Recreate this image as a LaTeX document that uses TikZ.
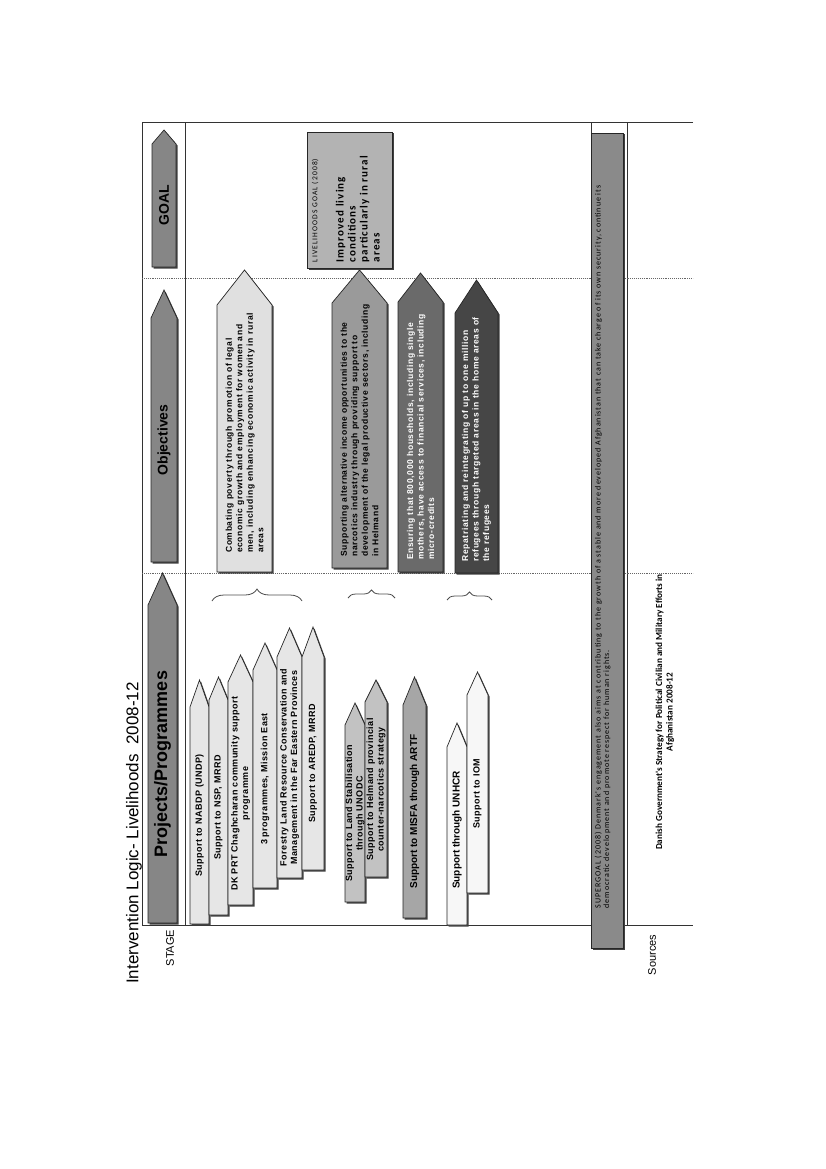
\documentclass[tikz,border=0pt]{standalone}
\usepackage{fontspec}
\setmainfont{Liberation Sans}
\newfontfamily\calib{Carlito}
\usepackage{tikz}
\usetikzlibrary{positioning, calc, decorations.pathreplacing}

\definecolor{stagefill}{HTML}{868686}
\definecolor{lightfill}{HTML}{E6E6E6}
\definecolor{midfill}{HTML}{C2C2C2}
\definecolor{misfafill}{HTML}{A6A6A6}
\definecolor{whitefill}{HTML}{F7F7F7}
\definecolor{objone}{HTML}{E0E0E0}
\definecolor{objtwo}{HTML}{9A9A9A}
\definecolor{objthree}{HTML}{6A6A6A}
\definecolor{objfour}{HTML}{464646}
\definecolor{goalfill}{HTML}{B3B3B3}
\definecolor{superfill}{HTML}{8A8A8A}

% pointed box: name, x left, x right, y bottom, y shoulder, y tip, fill
\newcommand{\pointbox}[7]{%
  \fill[black!75, shift={(1.5,1.5)}] (#2,#4) -- (#2,#5) -- ({(#2+#3)/2},#6) -- (#3,#5) -- (#3,#4) -- cycle;
  \filldraw[fill=#7, draw=black!85, line width=0.7pt] (#2,#4) -- (#2,#5) -- ({(#2+#3)/2},#6) -- (#3,#5) -- (#3,#4) -- cycle;
  \coordinate (#1) at ({(#2+#3)/2},{(#4+#5)/2});
  \coordinate (#1-b) at ({(#2+#3)/2},#4);
}

\begin{document}
\begin{tikzpicture}[
  x=1pt, y=-1pt,
  frame/.style={draw=black!80, line width=1pt},
  sep/.style={draw=black!60, densely dotted, line width=0.9pt},
  stagetxt/.style={rotate=90, inner sep=0pt, font=\bfseries\fontsize{14}{16}\selectfont},
  progtxt/.style={rotate=90, inner sep=0pt, align=center, font=\bfseries\fontsize{9}{10.5}\addfontfeature{LetterSpace=5}\selectfont},
  objtxt/.style={rotate=90, inner sep=0pt, anchor=west, align=left, font=\bfseries\fontsize{8.5}{10.5}\addfontfeature{LetterSpace=8}\selectfont},
  label/.style={rotate=90, inner sep=0pt},
  bracket/.style={draw=black!70, line width=0.8pt, decorate}
]
\useasboundingbox (0,0) rectangle (826,1169);

\draw[frame] (693,123) -- (142,123) -- (142,925) -- (693,925);
\draw[frame] (185,123) -- (185,925);
\draw[frame] (591,123) -- (591,925);
\draw[frame] (627,123) -- (627,925);
\draw[sep] (142,278) -- (693,278);
\draw[sep] (142,573) -- (693,573);

\node[label, font=\fontsize{17}{19}\selectfont] (title) at (134,833) {Intervention Logic- Livelihoods\ \ 2008-12};
\node[label, font=\fontsize{11}{13}\selectfont] (stage) at (170,948) {STAGE};
\node[label, font=\fontsize{11}{13}\selectfont] (sources) at (652,955) {Sources};

\pointbox{goal}{152}{176}{267}{144}{130}{stagefill}
\pointbox{objs}{151}{177}{562}{318}{290}{stagefill}
\pointbox{projs}{148}{177}{923}{605}{573}{stagefill}
\node[stagetxt] (goal-t) at (goal) {GOAL};
\node[stagetxt] (objs-t) at (objs) {Objectives};
\node[stagetxt, font=\bfseries\fontsize{18}{20}\selectfont] (projs-t) at (projs) {Projects/Programmes};

\pointbox{nabdp}{190}{209}{924}{707}{680}{lightfill}
\pointbox{nsp}{209}{228}{915}{700}{677}{lightfill}
\pointbox{dkprt}{228}{253}{905}{682}{655}{lightfill}
\pointbox{mission}{253}{277}{888}{670}{643}{lightfill}
\pointbox{forestry}{277}{302}{878}{657}{628}{lightfill}
\pointbox{aredp}{302}{324}{870}{657}{627}{lightfill}
\pointbox{landstab}{345}{365}{902}{725}{703}{midfill}
\pointbox{helmand}{365}{387}{877}{702}{680}{midfill}
\pointbox{misfa}{403}{426}{918}{705}{677}{misfafill}
\pointbox{unhcr}{447}{467}{925}{747}{723}{whitefill}
\pointbox{iom}{467}{488}{893}{695}{672}{whitefill}

\node[progtxt] (nabdp-t) at (nabdp) {Support to NABDP (UNDP)};
\node[progtxt] (nsp-t) at (nsp) {Support to NSP, MRRD};
\node[progtxt] (dkprt-t) at (dkprt) {DK PRT Chaghcharan community support\\programme};
\node[progtxt] (mission-t) at (mission) {3 programmes, Mission East};
\node[progtxt] (forestry-t) at (forestry) {Forestry Land Resource Conservation and\\Management in the Far Eastern Provinces};
\node[progtxt] (aredp-t) at (aredp) {Support to AREDP, MRRD};
\node[progtxt] (landstab-t) at (landstab) {Support to Land Stabilisation\\through UNODC};
\node[progtxt] (helmand-t) at (helmand) {Support to Helmand provincial\\counter-narcotics strategy};
\node[progtxt, font=\bfseries\fontsize{10}{12}\selectfont] (misfa-t) at (misfa) {Support to MISFA through ARTF};
\node[progtxt, font=\bfseries\fontsize{10}{12}\selectfont] (unhcr-t) at ([yshift=6pt]unhcr) {Support through UNHCR};
\node[progtxt] (iom-t) at (iom) {Support to IOM};

\coordinate (br1a) at (212,601);
\coordinate (br1b) at (302,601);
\coordinate (br2a) at (348,598);
\coordinate (br2b) at (395,598);
\coordinate (br3a) at (447,600);
\coordinate (br3b) at (492,600);
\draw[bracket, decoration={brace, amplitude=12pt}] (br1a) -- (br1b);
\draw[bracket, decoration={brace, amplitude=8pt}] (br2a) -- (br2b);
\draw[bracket, decoration={brace, amplitude=8pt}] (br3a) -- (br3b);

\pointbox{obj1}{217}{272}{572}{305}{270}{objone}
\pointbox{obj2}{332}{387}{568}{303}{270}{objtwo}
\pointbox{obj3}{398}{443}{572}{302}{273}{objthree}
\pointbox{obj4}{455}{498}{573}{313}{280}{objfour}

\node[objtxt] (obj1-t) at ([yshift=19pt]obj1-b) {Combating poverty through promotion of legal\\economic growth and employment for women and\\men, including enhancing economic activity in rural\\areas};
\node[objtxt] (obj2-t) at ([yshift=11pt]obj2-b) {Supporting alternative income opportunities to the\\narcotics industry through providing support to\\development of the legal productive sectors, including\\in Helmand};
\node[objtxt, text=white] (obj3-t) at ([yshift=12pt]obj3-b) {Ensuring that 800,000 households, including single\\mothers, have access to financial services, including\\micro-credits};
\node[objtxt, text=white] (obj4-t) at ([yshift=11pt]obj4-b) {Repatriating and reintegrating of up to one million\\refugees through targeted areas in the home areas of\\the refugees};

\fill[black!75] (308.5,133.5) rectangle (393.5,269.5);
\node[draw=black!85, line width=0.7pt, fill=goalfill, minimum width=85pt, minimum height=136pt, inner sep=0pt] (livgoal) at (349.5,200) {};
\node[label, anchor=north west, align=left, font=\calib\fontsize{7.5}{8}\addfontfeature{LetterSpace=15}\selectfont] (livgoal-h) at ([shift={(5,-6)}]livgoal.south west) {LIVELIHOODS GOAL (2008)};
\node[label, anchor=north west, align=left, font=\calib\bfseries\fontsize{11}{12}\addfontfeature{LetterSpace=10}\selectfont] (livgoal-t) at ([shift={(29,-6)}]livgoal.south west) {Improved living\\conditions\\particularly in rural\\areas};

\fill[black!75] (592.5,134.5) rectangle (624.5,949.5);
\node[draw=black!85, line width=0.7pt, fill=superfill, minimum width=32pt, minimum height=815pt, inner sep=0pt] (supergoal) at (607,540.5) {};
\node[label, anchor=north west, align=left, font=\calib\fontsize{8}{8.5}\addfontfeature{LetterSpace=12}\selectfont] (supergoal-t) at ([shift={(4,-40)}]supergoal.south west) {SUPERGOAL (2008) Denmark's engagement also aims at contributing to the growth of a stable and more developed Afghanistan that can take charge of its own security, continue its\\democratic development and promote respect for human rights.};

\node[label, align=center, font=\calib\bfseries\fontsize{9.2}{10.5}\selectfont] (source-t) at (665,712) {Danish Government's Strategy for Political Civilian and Military Efforts in\\Afghanistan 2008-12};

\end{tikzpicture}
\end{document}
